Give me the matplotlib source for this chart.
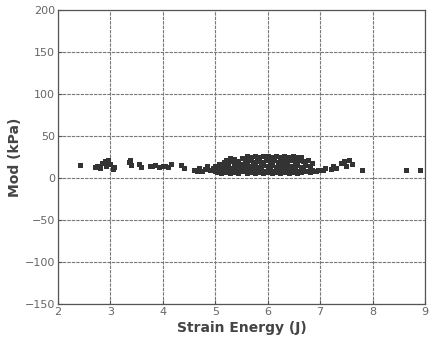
import matplotlib.pyplot as plt

# strain energy (J) vs modulus (kPa)
energy_sparse = [2.42, 2.70, 2.75, 2.80, 2.85, 2.90, 2.92, 2.95, 3.00, 3.05,
                 3.08, 3.35, 3.38, 3.40, 3.55, 3.58, 3.75, 3.80, 3.85, 3.92,
                 4.00, 4.05, 4.10, 4.15, 4.35, 4.40, 4.60, 4.65, 4.70, 4.75,
                 4.80, 4.85, 4.90, 4.95]
mod_sparse = [16, 13, 15, 12, 18, 20, 14, 22, 17, 11,
              13, 19, 22, 16, 17, 13, 15, 14, 16, 13,
              14, 15, 13, 17, 16, 12, 10, 8, 12, 9,
              11, 14, 10, 12]

energy_dense = [5.00, 5.00, 5.04, 5.04, 5.08, 5.08, 5.12, 5.12, 5.16, 5.16,
                5.20, 5.20, 5.20, 5.24, 5.24, 5.28, 5.28, 5.28, 5.32, 5.32,
                5.36, 5.36, 5.36, 5.40, 5.40, 5.44, 5.44, 5.44, 5.48, 5.48,
                5.52, 5.52, 5.52, 5.56, 5.56, 5.60, 5.60, 5.60, 5.64, 5.64,
                5.68, 5.68, 5.68, 5.72, 5.72, 5.76, 5.76, 5.76, 5.80, 5.80,
                5.84, 5.84, 5.84, 5.88, 5.88, 5.92, 5.92, 5.92, 5.96, 5.96,
                6.00, 6.00, 6.00, 6.04, 6.04, 6.08, 6.08, 6.08, 6.12, 6.12,
                6.16, 6.16, 6.16, 6.20, 6.20, 6.24, 6.24, 6.24, 6.28, 6.28,
                6.32, 6.32, 6.32, 6.36, 6.36, 6.40, 6.40, 6.40, 6.44, 6.44,
                6.48, 6.48, 6.48, 6.52, 6.52, 6.56, 6.56, 6.56, 6.60, 6.60,
                6.64, 6.64, 6.64, 6.68, 6.68, 6.72, 6.72, 6.76, 6.76, 6.80,
                6.80, 6.84, 6.84, 6.88, 6.92, 6.96]
mod_dense = [9, 15, 7, 12, 10, 17, 6, 13, 9, 19,
             7, 14, 22, 10, 18, 6, 12, 24, 9, 20,
             7, 15, 23, 11, 19, 6, 13, 21, 9, 17,
             8, 14, 24, 11, 20, 6, 16, 26, 10, 22,
             7, 14, 25, 11, 19, 6, 15, 26, 9, 21,
             7, 13, 25, 10, 19, 6, 16, 26, 9, 22,
             7, 14, 26, 10, 20, 6, 16, 25, 9, 22,
             7, 13, 26, 10, 19, 6, 15, 25, 9, 21,
             7, 14, 26, 11, 20, 6, 15, 25, 9, 22,
             7, 14, 26, 10, 20, 6, 16, 25, 9, 22,
             7, 13, 25, 10, 20, 8, 16, 9, 22, 7,
             14, 10, 18, 9, 8, 10]

energy_tail = [7.05, 7.10, 7.20, 7.25, 7.30, 7.40, 7.45, 7.50, 7.55, 7.60,
               7.80, 8.63, 8.90]
mod_tail = [10, 12, 11, 14, 12, 18, 20, 15, 22, 17,
            10, 10, 10]

x_ticks = [2, 3, 4, 5, 6, 7, 8, 9]
y_ticks = [-150, -100, -50, 0, 50, 100, 150, 200]

energy = energy_sparse + energy_dense + energy_tail
mod = mod_sparse + mod_dense + mod_tail

fig = plt.figure(figsize=(4.35, 3.5), dpi=100)
ax = fig.add_axes([0.133, 0.131, 0.844, 0.840])

ax.plot(energy, mod, linestyle='none', marker='s', markersize=3.6,
        color='#333333', markeredgewidth=0)

ax.set_xlim(2, 9)
ax.set_ylim(-150, 200)
ax.set_xticks(x_ticks)
ax.set_yticks(y_ticks)
ax.grid(True, color='#777777', linewidth=0.8, linestyle=(0, (3, 1)))
ax.tick_params(direction='in', length=3, labelsize=8, colors='#555555',
               labelcolor='#666666', pad=2)
for sp in ax.spines.values():
    sp.set_color('#555555')
    sp.set_linewidth(0.9)

ax.set_xlabel('Strain Energy (J)', fontsize=10, fontweight='bold',
              color='#444444', labelpad=3)
ax.set_ylabel('Mod (kPa)', fontsize=10, fontweight='bold',
              color='#444444', labelpad=2)

fig.savefig('out.png', dpi=100)
